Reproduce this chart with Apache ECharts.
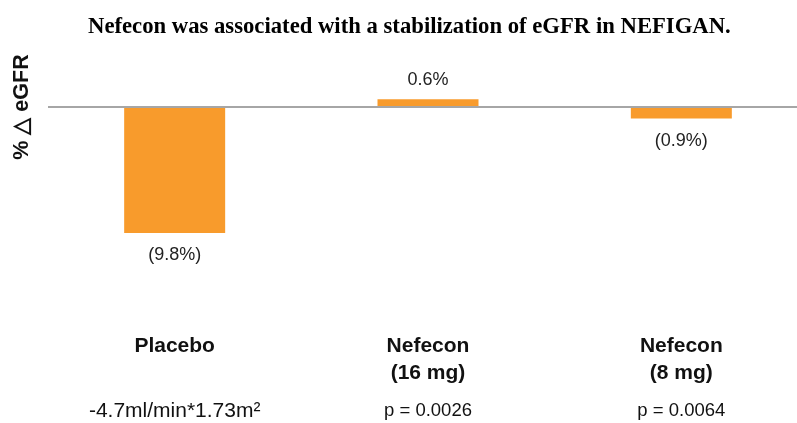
<!DOCTYPE html>
<html>
<head>
<meta charset="utf-8">
<script src="https://cdn.jsdelivr.net/npm/echarts@6/dist/echarts.min.js"></script>
<style>html,body{margin:0;padding:0;background:#fff;}#c{width:797px;height:423px;}</style>
</head>
<body>
<div id="c"></div>
<script>
var categories = ['Placebo', 'Nefecon', 'Nefecon'];
var doses = ['', '(16 mg)', '(8 mg)'];
var notes = ['-4.7ml/min*1.73m²', 'p = 0.0026', 'p = 0.0064'];
var values = [-9.8, 0.6, -0.9];
var yMin = -10, yMax = 10;

var chart = echarts.init(document.getElementById('c'));
var labelData = categories.map(function (c, i) { return String(i); });
chart.setOption({
  animation: false,
  title: {
    text: 'Nefecon was associated with a stabilization of eGFR in NEFIGAN.',
    left: 83, top: 11,
    textStyle: { fontFamily: 'Liberation Serif', fontWeight: 'bold', fontSize: 22.7, color: '#000' }
  },
  grid: { left: 48, width: 760, top: -21.6, height: 257.2, containLabel: false, outerBoundsMode: 'none' },
  xAxis: [{
    type: 'category', data: labelData, position: 'bottom',
    axisLine: { show: false, onZero: false }, axisTick: { show: false },
    axisLabel: {
      margin: 97, interval: 0,
      formatter: function (v) {
        var i = +v;
        return '{b|' + categories[i] + '}\n{b|' + (doses[i] || ' ') + '}\n{' + (i === 0 ? 'q' : 'p') + '|' + notes[i] + '}';
      },
      rich: {
        b: { fontFamily: 'Liberation Sans', fontWeight: 'bold', fontSize: 21, lineHeight: 27, color: '#111' },
        p: { fontFamily: 'Liberation Sans', fontSize: 18.5, lineHeight: 49, color: '#111' },
        q: { fontFamily: 'Liberation Sans', fontSize: 21, lineHeight: 49, color: '#111' }
      }
    }
  }],
  yAxis: {
    type: 'value', min: yMin, max: yMax,
    axisLine: { show: false }, axisTick: { show: false }, axisLabel: { show: false },
    splitLine: { show: false },
    name: '% △ eGFR', nameLocation: 'middle', nameRotate: 90, nameGap: 15,
    nameTextStyle: { fontFamily: 'Liberation Sans', fontWeight: 'bold', fontSize: 21.5, color: '#111' }
  },
  series: [{
    type: 'bar', barWidth: 101,
    itemStyle: { color: '#F89B2C' },
    data: values.map(function (v) {
      return { value: v, label: { position: v < 0 ? 'bottom' : 'top', distance: v < 0 ? 13 : 10 } };
    }),
    label: {
      show: true, fontFamily: 'Liberation Sans', fontSize: 18, color: '#222',
      formatter: function (p) { var v = p.value; return v < 0 ? '(' + Math.abs(v).toFixed(1) + '%)' : v.toFixed(1) + '%'; }
    },
    markLine: {
      silent: true, symbol: 'none', label: { show: false },
      lineStyle: { color: '#a6a6a6', width: 2, type: 'solid' },
      data: [{ yAxis: 0 }]
    }
  }]
});
</script>
</body>
</html>
